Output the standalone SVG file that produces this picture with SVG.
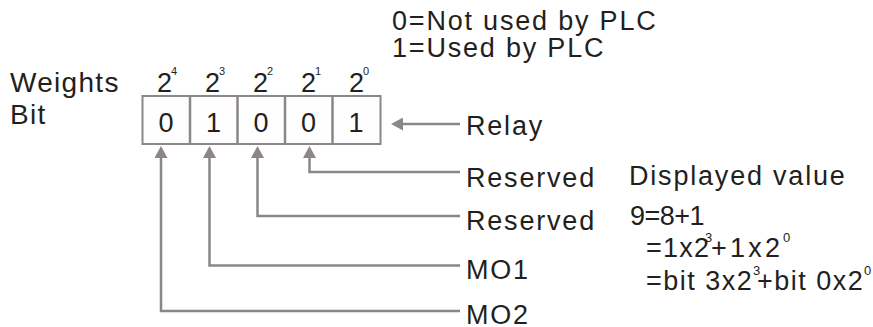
<svg xmlns="http://www.w3.org/2000/svg" width="873" height="327" viewBox="0 0 873 327">
<style>
text{font-family:"Liberation Sans",Arial,sans-serif;fill:#231f20}
.lb{font-size:27px;letter-spacing:1.8px}
.rl{font-size:28px;letter-spacing:1.3px}
.dg{font-size:27px;text-anchor:middle}
.w{font-size:27px}
.sup{font-size:11px}
.fs{font-size:13px}
.ln{fill:none;stroke:#8c8687;stroke-width:2.5}
.bx{fill:#fefefe;stroke:#8c8687;stroke-width:2}
</style>
<defs>
<marker id="ah" markerUnits="userSpaceOnUse" markerWidth="13" markerHeight="13" viewBox="0 0 12 13" refX="6" refY="6.5" orient="auto">
<path d="M0,0 L12,6.5 L0,13 z" fill="#8c8687"/>
</marker>
</defs>
<rect width="873" height="327" fill="#ffffff"/>
<g id="legend">
<text class="lb" x="392" y="30">0=Not used by PLC</text>
<text class="lb" x="392" y="57">1=Used by PLC</text>
</g>
<g id="row-labels">
<text class="rl" x="10" y="91.5">Weights</text>
<text class="rl" x="10" y="123.5">Bit</text>
</g>
<g id="weights">
<text class="w" x="157" y="92">2</text><text class="sup" x="171" y="75">4</text>
<text class="w" x="205" y="92">2</text><text class="sup" x="219" y="75">3</text>
<text class="w" x="253" y="92">2</text><text class="sup" x="267" y="75">2</text>
<text class="w" x="301" y="92">2</text><text class="sup" x="315" y="75">1</text>
<text class="w" x="349" y="92">2</text><text class="sup" x="363" y="75">0</text>
</g>
<g id="bits">
<rect class="bx" x="142.5" y="96" width="238" height="48"/>
<path class="ln" d="M190,96V144M237.5,96V144M285,96V144M332.5,96V144" stroke-width="2"/>
<text class="dg" x="166" y="131.5">0</text>
<text class="dg" x="213.5" y="131.5">1</text>
<text class="dg" x="261" y="131.5">0</text>
<text class="dg" x="308.5" y="131.5">0</text>
<text class="dg" x="356" y="131.5">1</text>
</g>
<g id="connectors">
<path class="ln" d="M460,124H397" marker-end="url(#ah)"/>
<path class="ln" d="M460,172H309.5V152" marker-end="url(#ah)"/>
<path class="ln" d="M460,216H257.5V152" marker-end="url(#ah)"/>
<path class="ln" d="M460,265.5H209.5V152" marker-end="url(#ah)"/>
<path class="ln" d="M460,311H161V152" marker-end="url(#ah)"/>
</g>
<g id="labels">
<text class="lb" x="466" y="135">Relay</text>
<text class="lb" x="466" y="186.5">Reserved</text>
<text class="lb" x="466" y="230">Reserved</text>
<text class="lb" x="466" y="279">MO1</text>
<text class="lb" x="466" y="324">MO2</text>
</g>
<g id="value">
<text class="lb" x="629" y="185">Displayed value</text>
<text class="w" x="630" y="225" letter-spacing="-0.5">9=8+1</text>
<text class="w" x="646" y="257" letter-spacing="1.2">=1x2</text><text class="fs" x="705" y="242">3</text>
<text class="w" x="711" y="257" letter-spacing="3.2">+1x2</text><text class="fs" x="783" y="242">0</text>
<text class="w" x="646" y="290" letter-spacing="1.5">=bit 3x2</text><text class="fs" x="753" y="275">3</text>
<text class="w" x="757" y="290" letter-spacing="1.5">+bit 0x2</text><text class="fs" x="864" y="275">0</text>
</g>
</svg>
